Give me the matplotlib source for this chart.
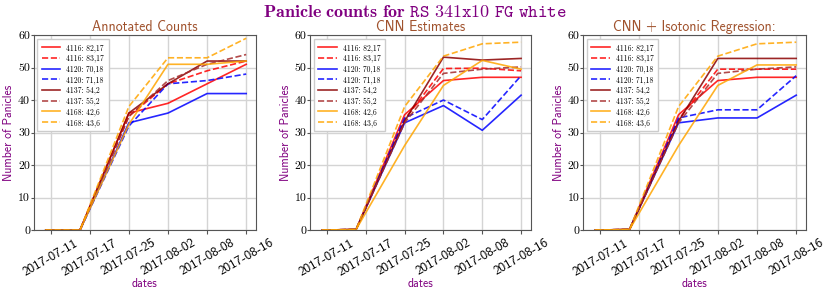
import matplotlib
matplotlib.use('Agg')
import matplotlib.pyplot as plt

plt.rcParams['mathtext.fontset'] = 'cm'
plt.rcParams['axes.unicode_minus'] = False

# days since first count; tick labels as printed on the original chart
day_offsets = [0, 7, 17, 25, 33, 41]
tick_days = [1, 9, 17, 25, 33, 41]
tick_labels = ['2017-07-11', '2017-07-17', '2017-07-25', '2017-08-02', '2017-08-08', '2017-08-16']
y_ticks = [0, 10, 20, 30, 40, 50, 60]

plot_names = ['4116: 82,17', '4116: 83,17', '4120: 70,18', '4120: 71,18',
              '4137: 54,2', '4137: 55,2', '4168: 42,6', '4168: 43,6']
colors = ['red', 'red', 'blue', 'blue', 'darkred', 'brown', 'orange', 'orange']
styles = ['-', '--', '-', '--', '-', '--', '-', '--']

annotated = [
    [0, 0, 36, 39, 45, 51],
    [0, 0, 35, 45, 49, 52],
    [0, 0, 33, 36, 42, 42],
    [0, 0, 32, 45, 46, 48],
    [0, 0, 36, 45, 52, 52],
    [0, 0, 35, 46, 51, 54],
    [0, 0, 32.5, 51, 51, 52],
    [0, 0, 38, 53, 53, 59],
]

cnn = [
    [0, 0.2, 35.5, 46, 47, 47],
    [0, 0.2, 34, 49.7, 49.8, 49],
    [0, 0.2, 33, 38.3, 30.7, 41.5],
    [0, 0.2, 34.5, 40, 34, 47.5],
    [0, 0.2, 33.5, 53.2, 52.3, 52.8],
    [0, 0.2, 33, 48.2, 49.5, 50.2],
    [0, 0.2, 26, 44.5, 52.2, 49.5],
    [0, 0.2, 38, 53.5, 57.3, 57.8],
]

isotonic = [
    [0, 0.2, 35.5, 46, 47, 47],
    [0, 0.2, 34, 49.5, 49.5, 49.5],
    [0, 0.2, 33, 34.5, 34.5, 41.5],
    [0, 0.2, 34.5, 37, 37, 47.5],
    [0, 0.2, 33.5, 52.8, 52.8, 52.8],
    [0, 0.2, 33, 48.2, 49.5, 50.2],
    [0, 0.2, 26, 44.5, 50.8, 50.8],
    [0, 0.2, 38, 53.5, 57.3, 57.8],
]

panel_titles = ['Annotated Counts', 'CNN Estimates', 'CNN + Isotonic Regression:']
panel_data = [annotated, cnn, isotonic]
panel_lefts = [0.0404, 0.3735, 0.7024]
panel_widths = [0.268, 0.266, 0.2687]

fig = plt.figure(figsize=(8.3, 3.02), dpi=100)

for left, width, title, data in zip(panel_lefts, panel_widths, panel_titles, panel_data):
    ax = fig.add_axes([left, 0.238, width, 0.646])
    for name, vals, c, ls in zip(plot_names, data, colors, styles):
        ax.plot(day_offsets, vals, color=c, linestyle=ls, linewidth=1.2, alpha=0.85, label=name)
    ax.set_xlim(-2.5, 43)
    ax.set_ylim(0, 60)
    ax.set_xticks(tick_days)
    ax.set_xticklabels(tick_labels, rotation=30, fontsize=9.5, family='cmss10')
    ax.set_yticks(y_ticks)
    ax.set_yticklabels([str(v) for v in y_ticks], fontsize=8.5, family='cmr10')
    ax.tick_params(axis='y', length=2, color='#555555', pad=0.5)
    ax.tick_params(axis='x', length=3, color='#555555', pad=2)
    ax.grid(True, color='#d4d4d4', linewidth=1)
    for s in ax.spines.values():
        s.set_color('#555555')
    ax.set_title(title, color='sienna', fontsize=10, pad=3, family='cmss10')
    ax.set_ylabel('Number of Panicles', color='purple', fontsize=8.5, family='cmss10', labelpad=2)
    ax.set_xlabel('dates', color='purple', fontsize=8.5, family='cmss10', labelpad=0)
    ax.legend(loc='upper left', prop={'family': 'cmr10', 'size': 5.5}, handlelength=2.4,
              labelspacing=0.3, borderpad=0.6, handletextpad=0.8,
              fancybox=False, framealpha=1, edgecolor='#cccccc')

fig.text(0.5, 0.96, r'$\mathbf{Panicle\ counts\ for}\ \mathtt{RS\ 341x10\ FG\ white}$',
         color='purple', fontsize=13, ha='center', va='center')

fig.savefig('out.png', dpi=100)
